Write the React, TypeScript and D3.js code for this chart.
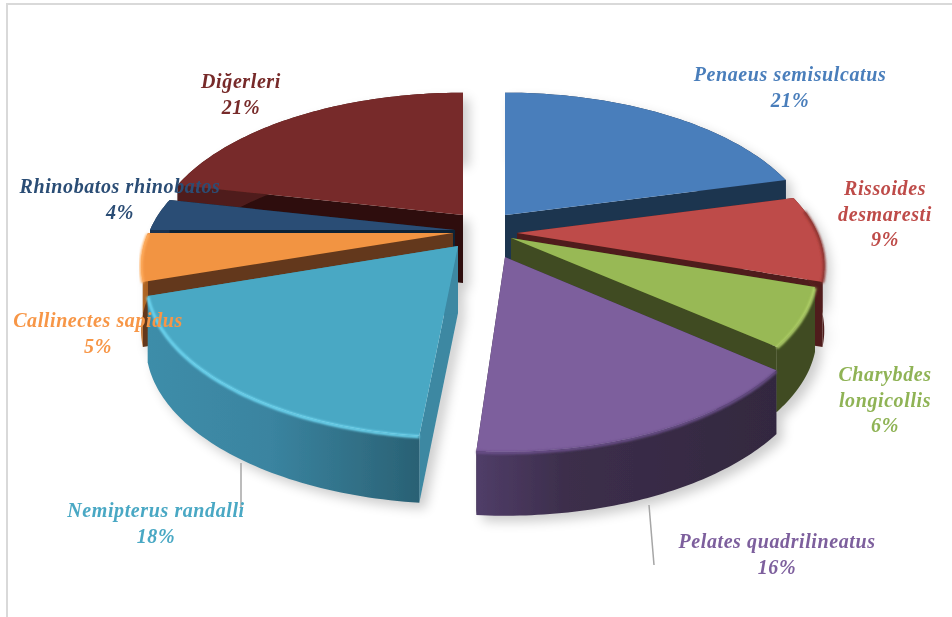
import React from "react";
import * as d3 from "d3";

const species = ["Penaeus semisulcatus", "Rissoides desmaresti", "Charybdes longicollis", "Pelates quadrilineatus", "Nemipterus randalli", "Callinectes sapidus", "Rhinobatos rhinobatos", "Diğerleri"];
// printed percentages
const percents = [21, 9, 6, 16, 18, 5, 4, 21];
// shares (the printed values are rounded)
const shares = [21, 9, 6, 15.6, 18.4, 5, 3.4, 21.6];
const labelLines = [["Penaeus semisulcatus"], ["Rissoides", "desmaresti"], ["Charybdes", "longicollis"], ["Pelates quadrilineatus"], ["Nemipterus randalli"], ["Callinectes sapidus"], ["Rhinobatos rhinobatos"], ["Diğerleri"]];
const topColors = ["#4A7EBB", "#BE4B48", "#98B954", "#7D5F9D", "#4AA8C4", "#F29443", "#2C4D75", "#772A29"];
const labelColors = ["#4A7EBB", "#BE4B48", "#8FB355", "#7D5F9D", "#4AA8C4", "#F79646", "#2C4D75", "#772A29"];
const cutColors = ["#1E3550", "#4F1E1C", "#3F4C20", "#33283F", "#3C88A2", "#64391A", "#0F2236", "#2F0F0E"];
const wallStops = [
  ["#1E3550", "#1E3550"], ["#6B2321", "#4F1E1C"], ["#3F4C20", "#3F4C20"], ["#503D68", "#33283F"],
  ["#3E8DA9", "#2A6174"], ["#C47430", "#A8601F"], ["#1B3350", "#1B3350"], ["#4F1E1C", "#4F1E1C"],
];
const rimColors = ["#5F93CF", "#8F3532", "#B4D46C", "#6B4F8A", "#6FDAF5", "#FFAE60", "#3A608F", "#8A3431"];
const apexX = [505, 517, 511, 505, 458, 453, 455, 463];
const apexY = [215, 233, 238, 257, 246, 233, 230, 215];
const radiusX = [1, 0.985, 0.98, 1, 1, 1, 1, 1];
const radiusZ = [1, 1, 1, 1.04, 1.02, 1, 1, 1];
const depths = [65, 65, 65, 64, 67, 65, 65, 68];
// small gap left at the end of a slice, in degrees
const endGapDeg = [0, 0, 0, 1.5, 0, 0, 0, 0];
const labelCx = [790, 885, 885, 777, 156, 98, 120, 241];
const labelBase = [81, 195, 381, 548, 517, 327, 193, 88];
const leaders = [[241, 463, 241, 508], [649, 505, 654, 565]];

const W = 952, H = 617;
const RX = 305, RZ = 148, DIST = 4.77;
const persp = (z: number) => DIST / (DIST - z);

export default function App() {
  const pie = d3.pie<number>().sort(null).value((d) => d);
  const arcs = pie(shares).map((a, i) => ({ ...a, endAngle: a.endAngle - (endGapDeg[i] * Math.PI) / 180 }));
  const line = d3.line<[number, number]>();
  const curve = (i: number, a0: number, a1: number, drop: number) =>
    d3.range(0, 61).map((k) => {
      const a = a0 + ((a1 - a0) * k) / 60;
      const x = Math.sin(a), z = -Math.cos(a), s = persp(z);
      return [apexX[i] + RX * radiusX[i] * x * s, apexY[i] + RZ * radiusZ[i] * z * s + drop] as [number, number];
    });
  const apex = (i: number, drop = 0) => [apexX[i], apexY[i] + drop] as [number, number];
  const order = [7, 0, 6, 5, 1, 2, 4, 3];

  const topPath = (i: number) => line([apex(i), ...curve(i, arcs[i].startAngle, arcs[i].endAngle, 0)]) + "Z";
  const wallPath = (i: number) => {
    const a = arcs[i];
    return line([...curve(i, a.startAngle, a.endAngle, 0), ...curve(i, a.startAngle, a.endAngle, depths[i]).reverse()]) + "Z";
  };
  const cutPath = (i: number, ang: number) => {
    const p = curve(i, ang, ang, 0)[0];
    return line([apex(i), p, [p[0], p[1] + depths[i]], apex(i, depths[i])]) + "Z";
  };
  // the bevel only catches the light on the part of the rim that faces the viewer
  const rimPath = (i: number) => {
    const a0 = Math.max(arcs[i].startAngle, Math.PI * 0.45);
    const a1 = Math.min(arcs[i].endAngle, Math.PI * 1.5);
    return a1 > a0 ? (line(curve(i, a0, a1, 1)) as string) : "";
  };

  return (
    <svg width={W} height={H} style={{ position: "absolute", left: 0, top: 0, display: "block", background: "#fff" }}>
      <defs>
        <filter id="shadow" x="-20%" y="-20%" width="140%" height="140%"><feGaussianBlur stdDeviation="6" /></filter>
        <filter id="rim" x="-20%" y="-20%" width="140%" height="140%"><feGaussianBlur stdDeviation="1.2" /></filter>
        <filter id="soft" x="0" y="0" width="100%" height="100%"><feGaussianBlur stdDeviation="0.45" /></filter>
        {arcs.map((a, i) => {
          const xs = curve(i, a.startAngle, a.endAngle, 0).map((p) => p[0]);
          return (
            <linearGradient key={i} id={`wall${i}`} gradientUnits="userSpaceOnUse"
              x1={d3.min(xs)} x2={d3.max(xs)} y1={0} y2={0}>
              <stop offset="0" stopColor={wallStops[i][0]} />
              <stop offset={i === 3 ? "0.3" : "0.45"} stopColor={i === 4 ? "#3A84A0" : d3.interpolateRgb(wallStops[i][0], wallStops[i][1])(0.7)} />
              <stop offset="1" stopColor={wallStops[i][1]} />
            </linearGradient>
          );
        })}
      </defs>
      <line x1={7} y1={617} x2={7} y2={4} stroke="#D9D9D9" strokeWidth={2} />
      <line x1={6} y1={4} x2={952} y2={4} stroke="#D9D9D9" strokeWidth={2} />
      <g filter="url(#soft)">
        <g filter="url(#shadow)" transform="translate(6,6)" opacity={0.2}>
          {order.map((i) => <path key={i} d={wallPath(i)} fill="#000" />)}
          {order.map((i) => <path key={i} d={cutPath(i, arcs[i].startAngle)} fill="#000" />)}
          <path d={cutPath(7, arcs[7].endAngle)} fill="#000" />
        </g>
        {order.map((i) => (
          <g key={species[i]}>
            <path d={cutPath(i, arcs[i].startAngle)} fill={cutColors[i]} />
            <path d={cutPath(i, arcs[i].endAngle)} fill={cutColors[i]} />
            <path d={wallPath(i)} fill={`url(#wall${i})`} />
            <path d={topPath(i)} fill={topColors[i]} />
            <path d={rimPath(i)} fill="none" stroke={rimColors[i]} strokeWidth={3} filter="url(#rim)" />
          </g>
        ))}
        {leaders.map((l, i) => (
          <line key={i} x1={l[0]} y1={l[1]} x2={l[2]} y2={l[3]} stroke="#A6A6A6" strokeWidth={1.5} />
        ))}
        {arcs.map((a, i) => (
          <text key={i} textAnchor="middle" fontFamily="'Liberation Serif', serif" fontStyle="italic" fontWeight="bold"
            fontSize={20} letterSpacing={0.6} fill={labelColors[i]}>
            {[...labelLines[i], `${percents[i]}%`].map((t, j) => (
              <tspan key={j} x={labelCx[i]} y={labelBase[i] + j * 25.7}>{t}</tspan>
            ))}
          </text>
        ))}
      </g>
    </svg>
  );
}
